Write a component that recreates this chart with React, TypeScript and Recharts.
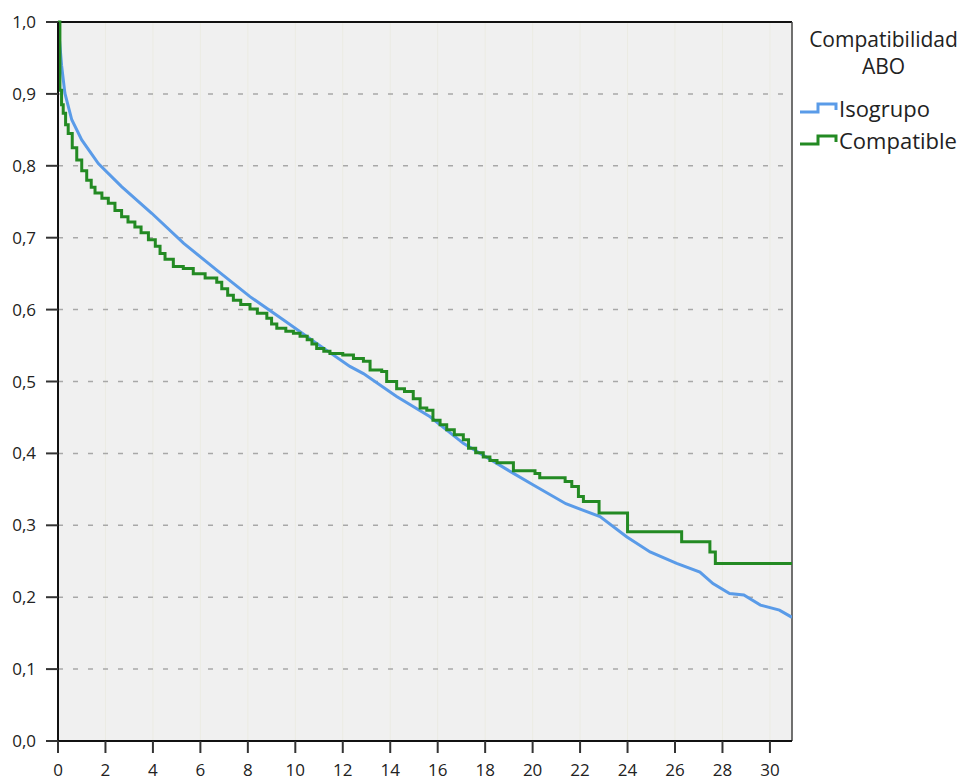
import React from 'react';
import { LineChart, Line, XAxis, YAxis, CartesianGrid, ReferenceLine } from 'recharts';

// Survival curves by ABO compatibility
const isoTime = [0, 0.15, 0.29, 0.58, 1.0, 1.7, 2.68, 3.95, 5.3, 6.69, 8.09, 9.49, 10.9, 12.3, 12.87, 14.27, 15.68, 17.08, 19.05, 20.03, 21.4, 22.84, 23.96, 24.95, 26.07, 27.05, 27.6, 28.3, 28.9, 29.6, 30.4, 30.93];
const isoSurv = [1.0, 0.94, 0.901, 0.864, 0.836, 0.803, 0.771, 0.734, 0.692, 0.655, 0.618, 0.586, 0.553, 0.521, 0.511, 0.479, 0.451, 0.414, 0.375, 0.356, 0.33, 0.312, 0.284, 0.263, 0.247, 0.235, 0.219, 0.205, 0.203, 0.189, 0.182, 0.172];

const compTime = [0, 0.08, 0.15, 0.22, 0.32, 0.43, 0.6, 0.79, 1.0, 1.21, 1.4, 1.56, 1.85, 2.12, 2.4, 2.68, 2.95, 3.24, 3.5, 3.81, 4.1, 4.3, 4.51, 4.86, 5.28, 5.7, 6.2, 6.69, 6.9, 7.15, 7.39, 7.7, 8.09, 8.4, 8.8, 9.0, 9.22, 9.6, 9.92, 10.2, 10.5, 10.7, 10.9, 11.2, 11.46, 12.0, 12.45, 12.87, 13.15, 13.64, 13.85, 14.27, 14.6, 14.97, 15.26, 15.54, 15.8, 16.1, 16.38, 16.7, 17.08, 17.3, 17.6, 17.92, 18.2, 18.5, 19.19, 20.1, 20.3, 21.37, 21.65, 21.93, 22.14, 22.8, 24.0, 26.28, 27.47, 27.7, 30.93];
const compSurv = [1.0, 0.905, 0.885, 0.873, 0.857, 0.845, 0.825, 0.808, 0.793, 0.78, 0.77, 0.762, 0.755, 0.748, 0.738, 0.729, 0.722, 0.715, 0.707, 0.697, 0.688, 0.678, 0.67, 0.66, 0.657, 0.65, 0.644, 0.638, 0.629, 0.62, 0.613, 0.607, 0.601, 0.595, 0.588, 0.58, 0.574, 0.57, 0.567, 0.563, 0.558, 0.552, 0.546, 0.542, 0.539, 0.537, 0.532, 0.528, 0.516, 0.514, 0.5, 0.49, 0.486, 0.476, 0.463, 0.46, 0.446, 0.44, 0.433, 0.426, 0.419, 0.407, 0.401, 0.395, 0.39, 0.387, 0.376, 0.372, 0.366, 0.361, 0.354, 0.34, 0.333, 0.317, 0.291, 0.277, 0.263, 0.247, 0.247];

const xTicks = [0, 2, 4, 6, 8, 10, 12, 14, 16, 18, 20, 22, 24, 26, 28, 30];
const yTicks = [0, 0.1, 0.2, 0.3, 0.4, 0.5, 0.6, 0.7, 0.8, 0.9, 1.0];
const X_MAX = 30.93;

const legendTitle = ['Compatibilidad', 'ABO'];
const seriesNames = ['Isogrupo', 'Compatible'];

const BLUE = '#5a9be8';
const GREEN = '#238a23';
const FONT = '"Open Sans", sans-serif';

const isoData = isoTime.map((t, i) => ({ t, s: isoSurv[i] }));
const compData = compTime.map((t, i) => ({ t, s: compSurv[i] }));

const StepIcon = ({ color }: { color: string }) => (
    <svg width={44} height={16} style={{ display: 'block' }}>
        <path d="M2 12 H20 V4 H38 V10" fill="none" stroke={color} strokeWidth={3} />
    </svg>
);

const LegendBox = () => (
    <div style={{ position: 'absolute', top: 0, left: 793, background: '#fff', width: 177, height: 198, fontFamily: FONT, color: '#222' }}>
        <div style={{ textAlign: 'center', fontSize: 21, lineHeight: '27px', paddingTop: 26, paddingLeft: 4 }}>
            {legendTitle.map(l => <div key={l}>{l}</div>)}
        </div>
        <div style={{ marginTop: 12 }}>
            {seriesNames.map((n, i) => (
                <div key={n} style={{ display: 'flex', alignItems: 'center', height: 32, fontSize: 22, paddingLeft: 5 }}>
                    <StepIcon color={i === 0 ? BLUE : GREEN} />
                    <span style={{ marginLeft: -3 }}>{n}</span>
                </div>
            ))}
        </div>
    </div>
);

export default function App() {
    return (
        <div style={{ width: 970, height: 783, background: '#fff', position: 'relative' }}>
            <style>{'body{margin:0}'}</style>
            <LineChart width={970} height={783} margin={{ top: 22, right: 178, left: 0, bottom: 0 }}>
                {/* plot fill with very faint vertical lines */}
                <CartesianGrid horizontal={false} fill="#f0f0f0" stroke="#ebebe3" strokeWidth={1} />
                <CartesianGrid vertical={false} stroke="#a8a8a8" strokeDasharray="5 10" strokeWidth={1.5} />
                <XAxis
                    type="number"
                    dataKey="t"
                    domain={[0, X_MAX]}
                    ticks={xTicks}
                    allowDataOverflow
                    height={42}
                    tickSize={12}
                    tickMargin={11}
                    interval={0}
                    tick={{ fill: '#222', fontSize: 17, fontFamily: FONT }}
                    axisLine={{ stroke: '#111', strokeWidth: 2 }}
                    tickLine={{ stroke: '#333', strokeWidth: 2 }}
                />
                <YAxis
                    type="number"
                    domain={[0, 1]}
                    ticks={yTicks}
                    width={58}
                    tickSize={12}
                    tickMargin={10}
                    interval={0}
                    tickFormatter={(v: number) => v.toFixed(1).replace('.', ',')}
                    tick={{ fill: '#222', fontSize: 17, fontFamily: FONT }}
                    axisLine={{ stroke: '#111', strokeWidth: 2 }}
                    tickLine={{ stroke: '#333', strokeWidth: 2 }}
                />
                <ReferenceLine y={1} stroke="#111" strokeWidth={2} />
                <ReferenceLine x={X_MAX} stroke="#444" strokeWidth={1.5} />
                <Line data={isoData} dataKey="s" type="linear" stroke={BLUE} strokeWidth={3} dot={false} isAnimationActive={false} />
                <Line data={compData} dataKey="s" type="stepAfter" stroke={GREEN} strokeWidth={3} dot={false} isAnimationActive={false} />
            </LineChart>
            <LegendBox />
        </div>
    );
}
